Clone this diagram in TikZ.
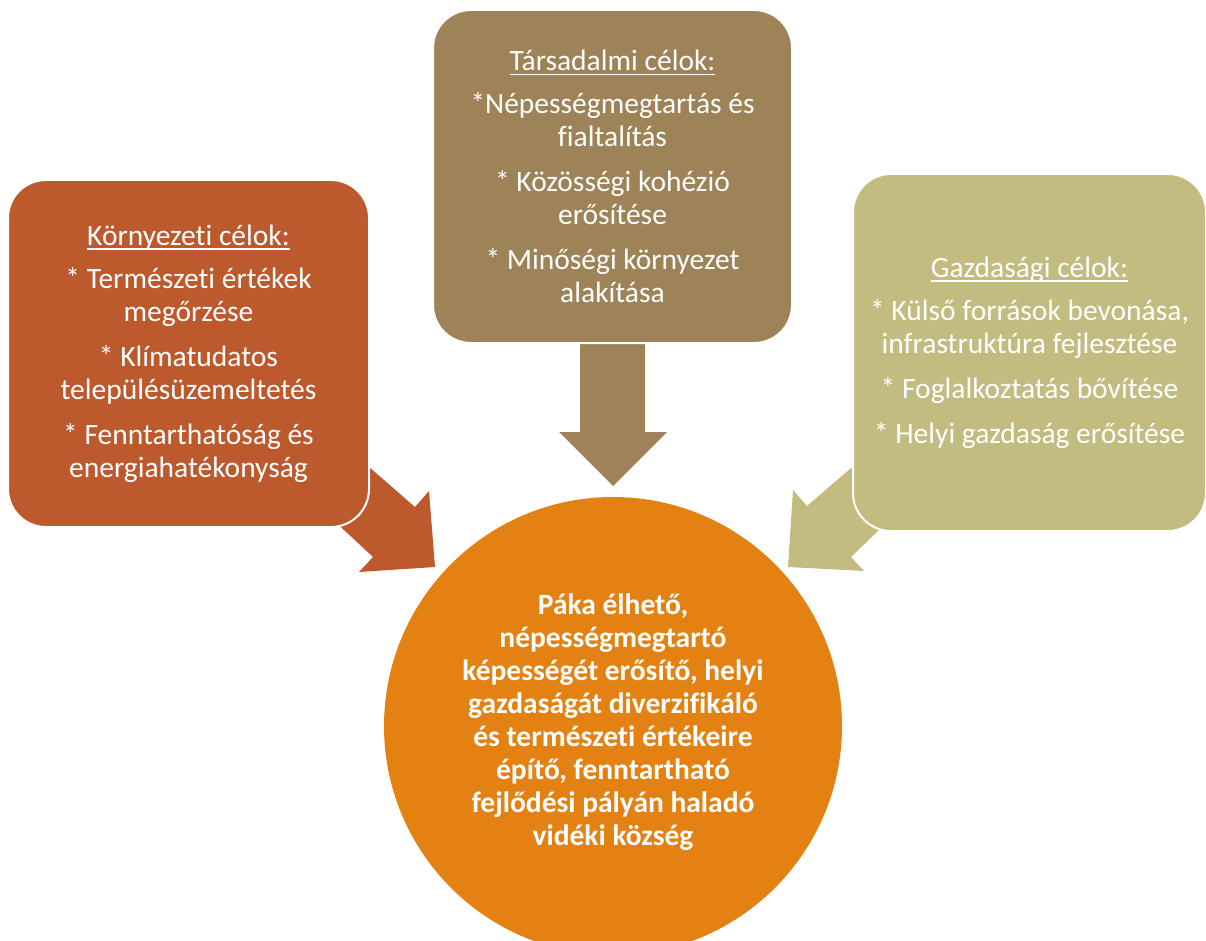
\documentclass[tikz,border=0pt]{standalone}
\usepackage{fontspec}
\setmainfont{Carlito}[Ligatures=NoCommon]
\definecolor{envc}{RGB}{188,89,45}
\definecolor{socc}{RGB}{157,131,87}
\definecolor{ecoc}{RGB}{195,188,128}
\definecolor{goalc}{RGB}{227,130,18}
\newcommand\myul[1]{\setbox0\hbox{#1}\rlap{\rule[-4.5pt]{\wd0}{1.5pt}}\box0}
\begin{document}
\begin{tikzpicture}[x=1pt,y=-1pt,
  goalbox/.style={draw=white,line width=2pt,rounded corners=38pt,inner sep=0pt,
    text=white,align=center,font=\fontsize{29.5}{33}\selectfont},
  goalcircle/.style={circle,fill=goalc,draw=none,inner sep=0pt,minimum size=458pt},
  goaltext/.style={text=white,align=center,font=\fontsize{29.5}{33}\selectfont\bfseries}]
\useasboundingbox (0,0) rectangle (1206,941);

% block arrows (behind the boxes)
\fill[envc] (330,433) -- (415,507) -- (429,491) -- (435,567) -- (359,572) -- (373,557) -- (300,489) -- cycle;
\fill[socc] (580,335) -- (580,432) -- (559,432) -- (613,486) -- (667,432) -- (645,432) -- (645,335) -- cycle;
\fill[ecoc] (880,443) -- (807,506) -- (793,490) -- (788,567) -- (864,571) -- (851,557) -- (905,505) -- cycle;

% boxes
\node[goalbox,fill=envc,minimum width=361pt,minimum height=347pt] (env) at (188.5,353.5)
  {\myul{Környezeti célok:}\\[10pt]
   * Természeti értékek\\ megőrzése\\[12pt]
   * Klímatudatos\\ településüzemeltetés\\[12pt]
   * Fenntarthatóság és\\ energiahatékonyság};
\node[goalbox,fill=socc,minimum width=359pt,minimum height=333pt] (soc) at (612.5,176.5)
  {\myul{Társadalmi célok:}\\[10pt]
   *Népességmegtartás és\\ fialtalítás\\[12pt]
   * Közösségi kohézió\\ erősítése\\[12pt]
   * Minőségi környezet\\ alakítása};
\node[goalbox,fill=ecoc,minimum width=353pt,minimum height=357pt] (eco) at (1029.5,352.5)
  {\myul{Gazdasági célok:}\\[10pt]
   * Külső források bevonása,\\ infrastruktúra fejlesztése\\[12pt]
   * Foglalkoztatás bővítése\\[12pt]
   * Helyi gazdaság erősítése};

% central circle
\node[goalcircle] (goal) at (613,726) {};
\node[goaltext] (goaltxt) at (613,722)
  {Páka élhető,\\ népességmegtartó\\ képességét erősítő, helyi\\ gazdaságát diverzifikáló\\
   és természeti értékeire\\ építő, fenntartható\\ fejlődési pályán haladó\\ vidéki község};
\end{tikzpicture}
\end{document}
